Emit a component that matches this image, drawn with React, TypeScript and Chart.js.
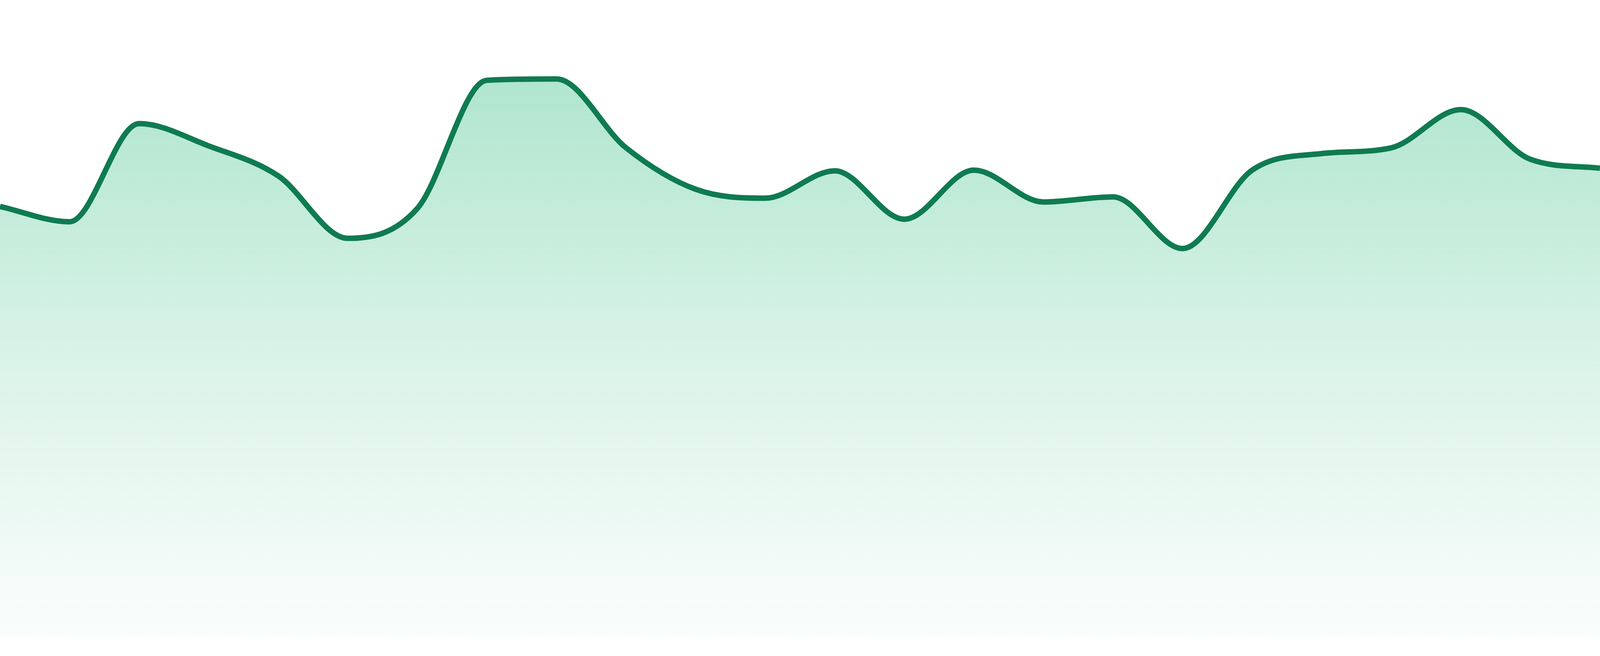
import React, { useEffect, useRef } from 'react';
import { Chart, registerables } from 'chart.js';

Chart.register(...registerables);

// Hidden category labels, one per point
const labels = [
  'P1', 'P2', 'P3', 'P4', 'P5', 'P6', 'P7', 'P8',
  'P9', 'P10', 'P11', 'P12', 'P13', 'P14', 'P15', 'P16',
  'P17', 'P18', 'P19', 'P20', 'P21', 'P22', 'P23', 'P24',
];

// Series values (0-100 scale)
const values = [
  67.6, 65.2, 80.6, 77.1, 72.4, 62.6, 67.3, 87.4,
  87.6, 76.8, 70.3, 68.9, 73.2, 65.6, 73.3, 68.3,
  69.1, 61.0, 73.3, 75.9, 76.8, 82.8, 75.0, 73.6,
];

const yMin = 0;
const yMax = 100;

const lineColor = '#0f7b50';

const App: React.FC = () => {
  const canvasRef = useRef<HTMLCanvasElement | null>(null);
  const chartRef = useRef<Chart | null>(null);

  useEffect(() => {
    document.body.style.margin = '0';
    document.body.style.overflow = 'hidden';
    if (!canvasRef.current) return;

    if (chartRef.current) {
      chartRef.current.destroy();
    }

    const ctx = canvasRef.current.getContext('2d');
    if (!ctx) return;

    chartRef.current = new Chart(ctx, {
      type: 'line',
      data: {
        labels,
        datasets: [{
          data: values,
          borderColor: lineColor,
          borderWidth: 14,
          pointRadius: 0,
          cubicInterpolationMode: 'monotone',
          fill: 'start',
          backgroundColor: (context: any) => {
            const { chart } = context;
            const area = chart.chartArea;
            if (!area) return 'rgba(16, 178, 110, 0.2)';
            // fades from the green under the line to almost white at the bottom
            const g = chart.ctx.createLinearGradient(0, area.top, 0, area.bottom);
            g.addColorStop(0, 'rgba(16, 178, 110, 0.38)');
            g.addColorStop(0.6, 'rgba(16, 178, 110, 0.14)');
            g.addColorStop(1, 'rgba(16, 178, 110, 0.02)');
            return g;
          },
        }],
      },
      options: {
        responsive: true,
        maintainAspectRatio: false,
        animation: false,
        layout: {
          padding: { top: 0, right: 0, bottom: 48, left: 0 },
        },
        scales: {
          x: { display: false },
          y: { display: false, min: yMin, max: yMax },
        },
        plugins: {
          legend: { display: false },
          tooltip: { enabled: false },
        },
      },
    });

    // Cleanup
    return () => {
      if (chartRef.current) {
        chartRef.current.destroy();
        chartRef.current = null;
      }
    };
  }, []);

  return (
    <div style={{ width: '100vw', height: '100vh', position: 'relative' }}>
      <canvas ref={canvasRef} style={{ display: 'block' }}></canvas>
    </div>
  );
};

export default App;
